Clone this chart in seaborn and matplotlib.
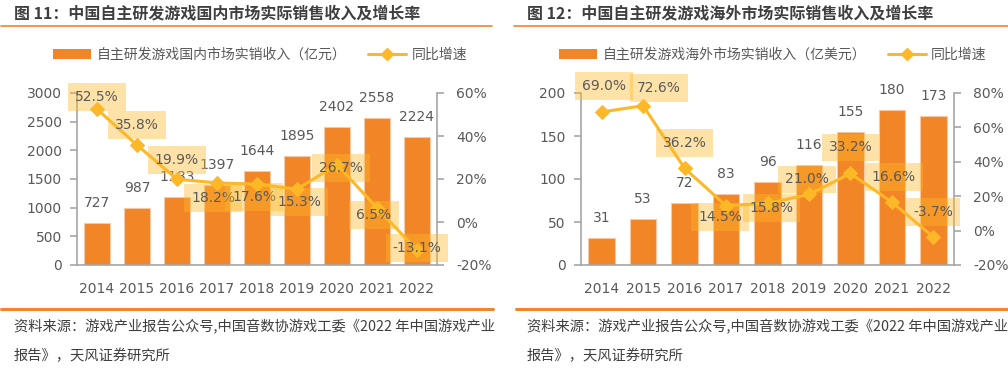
import numpy as np
import matplotlib.pyplot as plt
import seaborn as sns
from matplotlib.patches import Patch
from matplotlib.lines import Line2D

sns.set_theme(style="white")
plt.rcParams['font.family'] = ['Noto Sans CJK SC', 'DejaVu Sans']
plt.rcParams['axes.unicode_minus'] = False

# ---- data ----
years = ['2014', '2015', '2016', '2017', '2018', '2019', '2020', '2021', '2022']
domestic_rev = [727, 987, 1183, 1397, 1644, 1895, 2402, 2558, 2224]
domestic_growth = [52.5, 35.8, 19.9, 18.2, 17.6, 15.3, 26.7, 6.5, -13.1]
overseas_rev = [31, 53, 72, 83, 96, 116, 155, 180, 173]
overseas_growth = [69.0, 72.6, 36.2, 14.5, 15.8, 21.0, 33.2, 16.6, -3.7]

# growth label offsets (pixels) so the boxes sit like in the report
domestic_offsets = [(0, 12), (0, 20), (0, 19), (-4, -15), (-3, -13), (2, -13), (4, -3), (-3, -7), (0, 2)]
overseas_offsets = [(2, 26), (16, 18), (0, 25), (-6, -11), (4, -5), (-2, 15), (0, 26), (2, 25), (0, 25)]

ORANGE = '#F28526'
YELLOW = '#FDB827'
GRAY = '#A6A6A6'
TXT = '#595959'
DARK = '#3F3F3F'
NUM_FONT = 'DejaVu Sans'
NUM_SIZE = 10

W, H = 1008, 370
fig = plt.figure(figsize=(W / 100, H / 100), dpi=100)


def px_rect(x0, x1, y0, y1):
    return [x0 / W, 1 - y1 / H, (x1 - x0) / W, (y1 - y0) / H]


def hline(x0, x1, y, lw):
    fig.add_artist(Line2D([x0 / W, x1 / W], [1 - y / H, 1 - y / H],
                          transform=fig.transFigure, color=ORANGE, lw=lw))


def draw_panel(rect, rev, growth, rev_ticks, g_ticks, offsets):
    ax = fig.add_axes(rect)
    sns.barplot(x=years, y=rev, ax=ax, color=ORANGE, saturation=1, width=0.64,
                edgecolor='#F9C9A5', linewidth=0.8)
    ax2 = ax.twinx()
    g = [v / 100 for v in growth]
    sns.lineplot(x=years, y=g, ax=ax2, color=YELLOW, lw=2.2, marker='D',
                 markersize=7, markeredgecolor=YELLOW, sort=False)

    ax.set_xlim(-0.5, len(years) - 0.5)
    ax.set_ylim(rev_ticks[0], rev_ticks[-1])
    ax2.set_ylim(g_ticks[0] / 100, g_ticks[-1] / 100)
    ax.set_yticks(rev_ticks)
    ax.set_yticklabels([str(t) for t in rev_ticks], family=NUM_FONT, fontsize=NUM_SIZE, color=TXT)
    ax2.set_yticks([t / 100 for t in g_ticks])
    ax2.set_yticklabels([f'{t}%' for t in g_ticks], family=NUM_FONT, fontsize=NUM_SIZE, color=TXT)
    ax.set_xticks(range(len(years)))
    ax.set_xticklabels(years, family=NUM_FONT, fontsize=NUM_SIZE, color=TXT)
    ax.set_xticks(np.arange(-0.5, len(years), 1), minor=True)
    ax.tick_params(axis='x', which='major', length=0, pad=12)
    ax.tick_params(axis='x', which='minor', length=6, width=1.2, color=GRAY)
    ax.tick_params(axis='y', length=5, width=1.2, color=GRAY, pad=6, left=True)
    ax2.tick_params(axis='y', length=5, width=1.2, color=GRAY, pad=9, right=True)
    ax.set_xlabel('')
    ax.set_ylabel('')
    ax2.set_ylabel('')

    for s in ['top', 'right']:
        ax.spines[s].set_visible(False)
    for s in ['top', 'left', 'bottom']:
        ax2.spines[s].set_visible(False)
    for s in ['left', 'bottom']:
        ax.spines[s].set_color(GRAY)
        ax.spines[s].set_linewidth(1.2)
    ax2.spines['right'].set_color(GRAY)
    ax2.spines['right'].set_linewidth(1.2)

    for i, v in enumerate(rev):
        ax.annotate(str(v), (i, v), xytext=(0, 20), textcoords='offset pixels',
                    ha='center', va='center', family=NUM_FONT, fontsize=NUM_SIZE, color=TXT)
    for i, v in enumerate(growth):
        ax2.annotate(f'{v:.1f}%', (i, v / 100), xytext=offsets[i], textcoords='offset pixels',
                     ha='center', va='center', family=NUM_FONT, fontsize=NUM_SIZE, color=TXT,
                     bbox=dict(boxstyle='square,pad=0.5', fc=YELLOW, ec='none', alpha=0.4))
    return ax, ax2


def draw_legend(label, cx):
    handles = [Patch(fc=ORANGE, ec='none'),
               Line2D([], [], color=YELLOW, lw=2.2, marker='D', markersize=6)]
    fig.legend(handles, [label, '同比增速'], loc='center', bbox_to_anchor=(cx / W, 1 - 55 / H),
               ncol=2, frameon=False, fontsize=10, handlelength=2.7, handletextpad=0.4,
               columnspacing=1.6, labelcolor=TXT)


# ---- left panel ----
fig.text(14 / W, 1 - 13 / H, '图 11：中国自主研发游戏国内市场实际销售收入及增长率',
         fontsize=11.5, fontweight='bold', color=DARK, va='center', ha='left')
hline(1, 492, 26, 1.2)
draw_legend('自主研发游戏国内市场实销收入（亿元）', 260)
draw_panel(px_rect(77, 437, 93, 265), domestic_rev, domestic_growth,
           [0, 500, 1000, 1500, 2000, 2500, 3000], [-20, 0, 20, 40, 60], domestic_offsets)
hline(1, 493, 309, 2.2)
fig.text(14 / W, 1 - 327 / H, '资料来源：游戏产业报告公众号,中国音数协游戏工委《2022 年中国游戏产业',
         fontsize=10.3, color=DARK, va='center', ha='left')
fig.text(14 / W, 1 - 356 / H, '报告》，天风证券研究所',
         fontsize=10.3, color=DARK, va='center', ha='left')

# ---- right panel ----
fig.text(527 / W, 1 - 13 / H, '图 12：中国自主研发游戏海外市场实际销售收入及增长率',
         fontsize=11.5, fontweight='bold', color=DARK, va='center', ha='left')
hline(514, 1008, 26, 1.2)
draw_legend('自主研发游戏海外市场实销收入（亿美元）', 773)
draw_panel(px_rect(581, 954, 93, 265), overseas_rev, overseas_growth,
           [0, 50, 100, 150, 200], [-20, 0, 20, 40, 60, 80], overseas_offsets)
hline(516, 1008, 309, 2.2)
fig.text(527 / W, 1 - 327 / H, '资料来源：游戏产业报告公众号,中国音数协游戏工委《2022 年中国游戏产业',
         fontsize=10.3, color=DARK, va='center', ha='left')
fig.text(527 / W, 1 - 356 / H, '报告》，天风证券研究所',
         fontsize=10.3, color=DARK, va='center', ha='left')

fig.savefig('out.png', dpi=100)
